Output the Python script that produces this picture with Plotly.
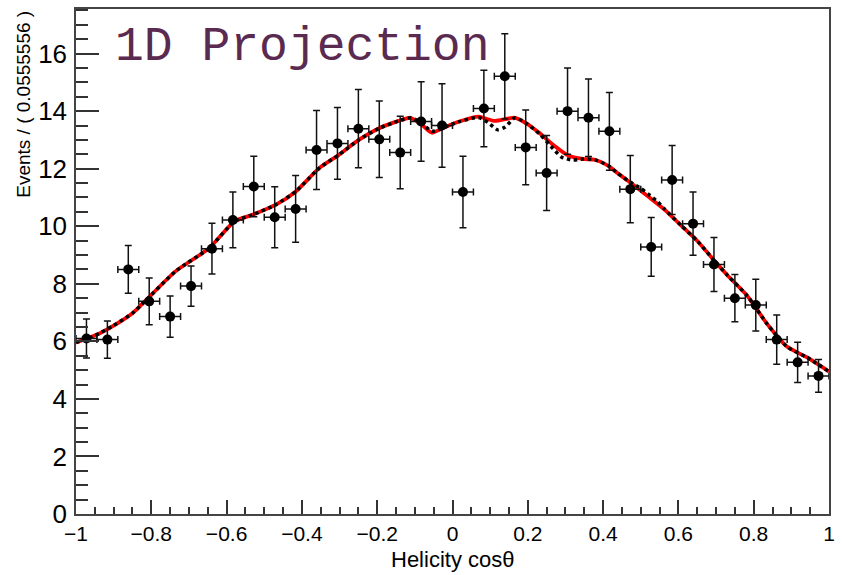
import plotly.graph_objects as go

# ---- data ----
bin_width = 2.0 / 36
bin_centers = [-1 + bin_width * (k + 0.5) for k in range(36)]
counts = [6.10, 6.06, 8.50, 7.39, 6.86, 7.92, 9.22, 10.22, 11.38, 10.31,
          10.60, 12.65, 12.88, 13.39, 13.02, 12.56, 13.64, 13.50, 11.19, 14.09,
          15.21, 12.74, 11.85, 14.00, 13.77, 13.30, 11.29, 9.28, 11.61, 10.09,
          8.67, 7.50, 7.26, 6.06, 5.27, 4.80]
errors = [0.68, 0.65, 0.83, 0.81, 0.72, 0.70, 0.88, 0.97, 1.05, 1.06,
          1.16, 1.37, 1.25, 1.36, 1.33, 1.26, 1.38, 1.45, 1.24, 1.33,
          1.48, 1.30, 1.30, 1.50, 1.35, 1.35, 1.17, 1.02, 1.20, 1.10,
          0.94, 0.82, 0.90, 0.86, 0.70, 0.57]

fit_x = [-1.0, -0.95, -0.90, -0.85, -0.824, -0.735, -0.647, -0.579, -0.531, -0.469,
         -0.416, -0.354, -0.302, -0.249, -0.196, -0.143, -0.112, -0.085, -0.055,
         -0.028, 0.016, 0.069, 0.086, 0.113, 0.166, 0.197, 0.232, 0.267, 0.307,
         0.347, 0.378, 0.413, 0.439, 0.474, 0.519, 0.563, 0.607, 0.651, 0.695,
         0.730, 0.783, 0.836, 0.889, 0.942, 1.0]
fit_red = [5.96, 6.20, 6.55, 6.98, 7.30, 8.44, 9.23, 10.17, 10.40, 10.75,
           11.21, 12.02, 12.48, 13.00, 13.40, 13.66, 13.77, 13.57, 13.25,
           13.40, 13.63, 13.81, 13.75, 13.66, 13.77, 13.57, 13.23, 12.83, 12.46,
           12.34, 12.31, 12.11, 11.84, 11.50, 11.04, 10.58, 10.03, 9.48, 8.81,
           8.30, 7.58, 6.60, 5.81, 5.44, 4.95]

dot_x = [-1.0, -0.95, -0.90, -0.85, -0.824, -0.735, -0.647, -0.579, -0.531, -0.469,
         -0.416, -0.354, -0.302, -0.249, -0.196, -0.143, -0.112, -0.085, -0.055,
         -0.028, 0.016, 0.069, 0.095, 0.120, 0.140, 0.166, 0.197, 0.232, 0.267,
         0.290, 0.320, 0.347, 0.378, 0.413, 0.439, 0.474, 0.500, 0.520, 0.545,
         0.563, 0.607, 0.651, 0.695, 0.730, 0.783, 0.836, 0.889, 0.942, 1.0]
fit_dot = [5.96, 6.20, 6.55, 6.98, 7.30, 8.44, 9.23, 10.17, 10.40, 10.75,
           11.21, 12.02, 12.48, 13.00, 13.40, 13.66, 13.77, 13.62, 13.30,
           13.40, 13.63, 13.78, 13.60, 13.35, 13.45, 13.77, 13.57, 13.20, 12.70,
           12.40, 12.30, 12.34, 12.31, 12.11, 11.84, 11.52, 11.32, 11.12, 10.85,
           10.60, 10.03, 9.48, 8.81, 8.30, 7.58, 6.60, 5.81, 5.44, 4.95]

title_text = "1D Projection"
x_title = "Helicity cos\u03b8"
y_title = "Events / ( 0.0555556 )"

# ---- figure ----
fig = go.Figure()
fig.add_trace(go.Scatter(x=fit_x, y=fit_red, mode="lines",
                         line=dict(color="#ff0000", width=3.8, shape="spline", smoothing=0.6),
                         hoverinfo="skip", showlegend=False))
fig.add_trace(go.Scatter(x=dot_x, y=fit_dot, mode="lines",
                         line=dict(color="#000000", width=3.5, dash="dot", shape="spline", smoothing=0.6),
                         hoverinfo="skip", showlegend=False))
fig.add_trace(go.Scatter(
    x=bin_centers, y=counts, mode="markers",
    marker=dict(color="black", size=10, symbol="circle"),
    error_y=dict(type="data", array=errors, visible=True, color="#111", thickness=1.5, width=3.5),
    error_x=dict(type="constant", value=bin_width / 2, visible=True, color="#111", thickness=1.5, width=3.5),
    showlegend=False))

axis_font = "Liberation Sans, Arial, sans-serif"
fig.update_layout(
    width=842, height=575,
    margin=dict(l=76, r=10, t=7, b=61),
    paper_bgcolor="white", plot_bgcolor="white",
    showlegend=False,
    xaxis=dict(range=[-1, 1], tickmode="linear", tick0=-1, dtick=0.2,
               ticks="inside", ticklen=14, tickwidth=1.5, tickcolor="#333",
               showline=True, linecolor="#444", linewidth=1.5, mirror=True,
               showgrid=False, zeroline=False,
               tickfont=dict(family=axis_font, size=21, color="black"),
               ticklabelstandoff=0,
               minor=dict(ticks="inside", ticklen=7, dtick=0.05, tickwidth=1.5, tickcolor="#333", showgrid=False)),
    yaxis=dict(range=[0, 17.55], tickmode="linear", tick0=0, dtick=2,
               ticks="inside", ticklen=23, tickwidth=1.5, tickcolor="#333",
               showline=True, linecolor="#444", linewidth=1.5, mirror=True,
               showgrid=False, zeroline=False,
               tickfont=dict(family=axis_font, size=26, color="black"),
               ticklabelstandoff=2,
               minor=dict(ticks="inside", ticklen=12, dtick=0.5, tickwidth=1.5, tickcolor="#333", showgrid=False)),
    annotations=[
        dict(text=title_text, xref="paper", yref="paper", x=0.049, y=0.925,
             xanchor="left", yanchor="middle", showarrow=False,
             font=dict(family="Liberation Mono, Courier New, monospace", size=48, color="#5a2a50")),
        dict(text=x_title, xref="paper", yref="paper", x=0.5, y=-0.1193,
             xanchor="center", yanchor="bottom", showarrow=False,
             font=dict(family=axis_font, size=22, color="black")),
        dict(text=y_title, xref="paper", yref="paper", x=-0.07, y=1.0,
             xanchor="center", yanchor="top", textangle=-90, showarrow=False,
             font=dict(family=axis_font, size=19, color="black")),
    ],
)

fig.write_html("out.html")
